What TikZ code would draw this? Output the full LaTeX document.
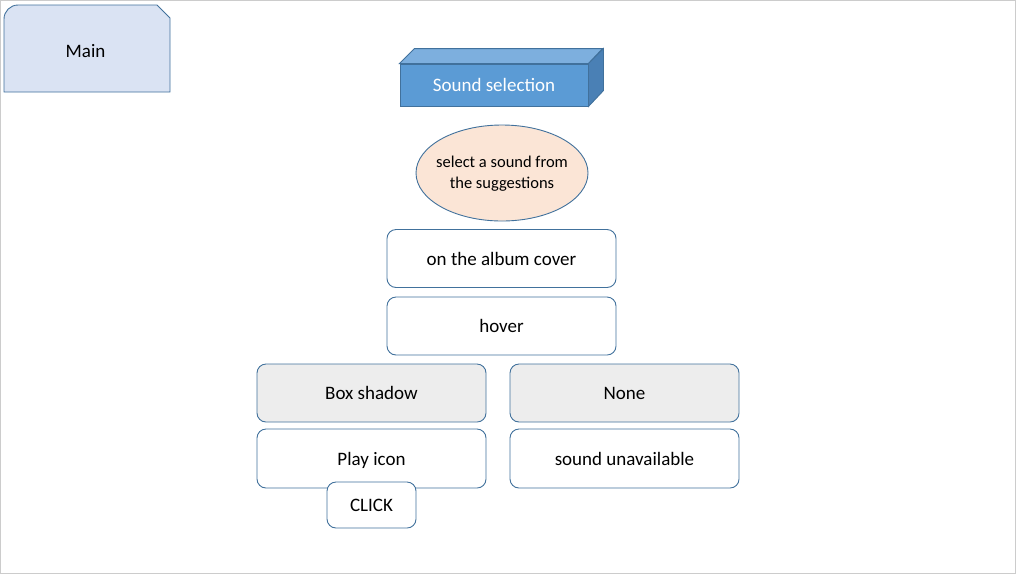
\documentclass[tikz,border=0pt]{standalone}
\usepackage{fontspec}
\setmainfont{Carlito}
\usepackage{xcolor}
\usetikzlibrary{shapes.geometric}

\definecolor{edgeblue}{HTML}{41719C}
\definecolor{mainfill}{HTML}{DAE3F3}
\definecolor{cubefront}{HTML}{5B9BD5}
\definecolor{cubetop}{HTML}{7DAFDE}
\definecolor{cubeside}{HTML}{4A80B5}
\definecolor{peach}{HTML}{FBE5D6}
\definecolor{greybox}{HTML}{EDEDED}

\tikzset{
  optbox/.style={draw=edgeblue,fill=white,rounded corners=9pt,minimum width=229pt,minimum height=58pt,font=\fontsize{19}{23}\selectfont},
  greyopt/.style={optbox,fill=greybox}
}

\begin{document}
\begin{tikzpicture}[x=1pt,y=-1pt,line width=0.9pt]
\useasboundingbox (0,0) rectangle (1016,574);
\draw[line width=1pt,black!20] (0.5,0.5) rectangle (1015.5,573.5);

% main tab
\draw[draw=edgeblue,fill=mainfill] (4,92) [rounded corners=14pt]-- (4,5) [sharp corners]-- (157,5) -- (170,18) -- (170,92) -- cycle;
\node[font=\fontsize{19}{23}\selectfont] (main) at (85.5,51) {Main};

% sound selection block
\node[draw=edgeblue,fill=cubefront,minimum width=188pt,minimum height=42pt,text=white,font=\fontsize{19}{23}\selectfont] (sel) at (494,85) {Sound selection};
\draw[draw=edgeblue,fill=cubetop] (sel.north west) -- ++(15,-15) -- ++(188,0) -- (sel.north east) -- cycle;
\draw[draw=edgeblue,fill=cubeside] (sel.north east) -- ++(15,-15) -- ++(0,42) -- (sel.south east) -- cycle;

\node[draw=edgeblue,fill=peach,ellipse,minimum width=172pt,minimum height=96pt] (pick) at (502,173) {};
\node[align=center,font=\fontsize{16.5}{21}\selectfont] (picktext) at (502,174) {select a sound from\\the suggestions};

\node[optbox] (cover) at (501.5,258.5) {on the album cover};
\node[optbox] (hover) at (501.5,326) {hover};
\node[greyopt] (shadow) at (371.5,393) {Box shadow};
\node[greyopt] (none) at (624.5,393) {None};
\node[optbox,minimum height=59pt,text depth=0pt] (play) at (371.5,458.5) {Play icon};
\node[optbox,minimum height=59pt] (unavail) at (624.5,458.5) {sound unavailable};
\node[optbox,minimum width=89pt,minimum height=46pt] (click) at (371.5,505) {CLICK};

\end{tikzpicture}
\end{document}
